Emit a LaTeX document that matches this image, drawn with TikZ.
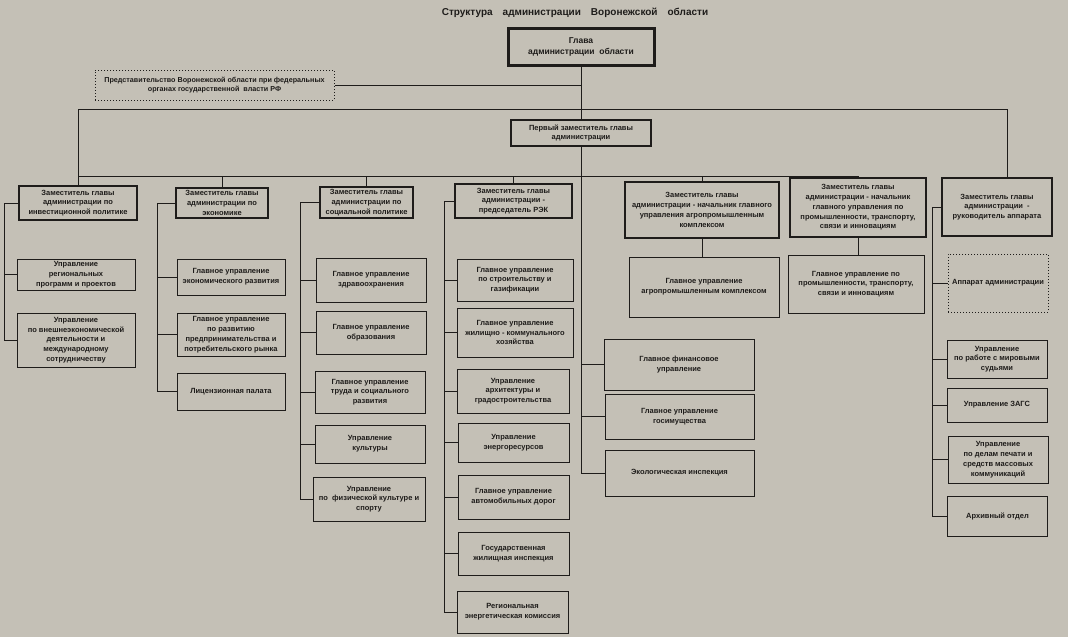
\documentclass[tikz,border=0pt]{standalone}
\usepackage{fontspec}
\setmainfont{Liberation Sans}
\usetikzlibrary{positioning, calc}

\definecolor{papel}{RGB}{196,192,182}
\definecolor{tinta}{RGB}{30,28,26}

\begin{document}
\begin{tikzpicture}[
        x=1pt, y=-1pt,
        every node/.style={font=\fontsize{7.5}{9.8}\selectfont\bfseries, text=tinta, align=center}, % Texto: sans-serif, negrita.
        box/.style={draw=tinta, line width=0.9pt, rectangle, inner sep=1pt},
        dep_box/.style={draw=tinta, line width=1.8pt, rectangle, inner sep=1pt},
        dot_box/.style={draw=tinta, line width=1pt, dotted, rectangle, inner sep=1pt},
        link_style/.style={draw=tinta, line width=0.8pt}
    ]
        % --- Fondo (papel) ---
        \fill[papel] (0,0) rectangle (1068,637);
        \useasboundingbox (0,0) rectangle (1068,637);

        % --- Titulo ---
        \node[font=\fontsize{10}{12}\selectfont\bfseries] (titulo) at (575,13)
            {Структура\enspace\enspace администрации\enspace\enspace Воронежской\enspace\enspace области};

        % --- Glava y primer suplente ---
        \node[dep_box, line width=3pt, minimum width=146pt, minimum height=37pt,
              font=\fontsize{8.5}{11}\selectfont\bfseries] (glava) at (581,47) {Глава\\администрации\ \ области};
        \node[dot_box, minimum width=239pt, minimum height=30pt, font=\fontsize{7.2}{9.8}\selectfont\bfseries] (predst) at (214.5,85)
            {Представительство Воронежской области при федеральных\\органах государственной\ \ власти РФ};
        \node[dep_box, minimum width=140pt, minimum height=26pt] (perv) at (581,133) {Первый заместитель главы\\администрации};

        % --- Suplentes ---
        \node[dep_box, minimum width=118pt, minimum height=34pt] (d1) at (78,203) {Заместитель главы\\администрации по\\инвестиционной политике};
        \node[dep_box, minimum width=92pt, minimum height=30pt] (d2) at (222,203) {Заместитель главы\\администрации по\\экономике};
        \node[dep_box, minimum width=93pt, minimum height=31pt] (d3) at (366.5,202.5) {Заместитель главы\\администрации по\\социальной политике};
        \node[dep_box, minimum width=117pt, minimum height=34pt] (d4) at (513.5,201) {Заместитель главы\\администрации -\\председатель РЭК};
        \node[dep_box, minimum width=154pt, minimum height=56pt] (d5) at (702,210)
            {Заместитель главы\\администрации - начальник главного\\управления агропромышленным\\комплексом};
        \node[dep_box, minimum width=136pt, minimum height=59pt] (d6) at (858,207.5)
            {Заместитель главы\\администрации - начальник\\главного управления по\\промышленности, транспорту,\\связи и инновациям};
        \node[dep_box, line width=1.3pt, minimum width=110pt, minimum height=58pt] (d7) at (997,207)
            {Заместитель главы\\администрации\ \ -\\руководитель аппарата};

        % --- Columna 1 ---
        \node[box, minimum width=118pt, minimum height=31pt] (u_reg) at (76,274.5) {Управление\\региональных\\программ и проектов};
        \node[box, minimum width=118pt, minimum height=54pt] (u_vnesh) at (76,340)
            {Управление\\по внешнеэкономической\\деятельности и\\международному\\сотрудничеству};

        % --- Columna 2 ---
        \node[box, minimum width=108pt, minimum height=36pt] (gu_econ) at (231,277) {Главное управление\\экономического развития};
        \node[box, minimum width=108pt, minimum height=43pt] (gu_predpr) at (231,334.5)
            {Главное управление\\по развитию\\предпринимательства и\\потребительского рынка};
        \node[box, minimum width=108pt, minimum height=37pt] (lic) at (231,391.5) {Лицензионная палата};

        % --- Columna 3 ---
        \node[box, minimum width=110pt, minimum height=44pt] (gu_zdrav) at (371,280) {Главное управление\\здравоохранения};
        \node[box, minimum width=110pt, minimum height=43pt] (gu_obraz) at (371,332.5) {Главное управление\\образования};
        \node[box, minimum width=110pt, minimum height=42pt] (gu_trud) at (370,392) {Главное управление\\труда и социального\\развития};
        \node[box, minimum width=110pt, minimum height=38pt] (u_kult) at (370,444) {Управление\\культуры};
        \node[box, minimum width=112pt, minimum height=44pt] (u_sport) at (369,499) {Управление\\по\ \ физической культуре и\\спорту};

        % --- Columna 4 ---
        \node[box, minimum width=116pt, minimum height=42pt] (gu_stroi) at (515,280) {Главное управление\\по строительству и\\газификации};
        \node[box, minimum width=116pt, minimum height=49pt] (gu_zhkh) at (515,332.5)
            {Главное управление\\жилищно - коммунального\\хозяйства};
        \node[box, minimum width=112pt, minimum height=44pt] (u_arch) at (513,391) {Управление\\архитектуры и\\градостроительства};
        \node[box, minimum width=111pt, minimum height=39pt] (u_energo) at (513.5,442.5) {Управление\\энергоресурсов};
        \node[box, minimum width=111pt, minimum height=44pt] (gu_dorog) at (513.5,497) {Главное управление\\автомобильных дорог};
        \node[box, minimum width=111pt, minimum height=43pt] (gos_insp) at (513.5,553.5) {Государственная\\жилищная инспекция};
        \node[box, minimum width=111pt, minimum height=42pt] (rek) at (512.5,612) {Региональная\\энергетическая комиссия};

        % --- Columna 5 (subordinacion directa) ---
        \node[box, minimum width=150pt, minimum height=60pt] (gu_apk) at (704,287) {Главное управление\\агропромышленным комплексом};
        \node[box, minimum width=150pt, minimum height=51pt] (gu_fin) at (679,364.5) {Главное финансовое\\управление};
        \node[box, minimum width=149pt, minimum height=45pt] (gu_imush) at (679.5,416.5) {Главное управление\\госимущества};
        \node[box, minimum width=149pt, minimum height=46pt] (eco) at (679.5,473) {Экологическая инспекция};

        % --- Columna 6 ---
        \node[box, minimum width=136pt, minimum height=58pt] (gu_prom) at (856,284)
            {Главное управление по\\промышленности, транспорту,\\связи и инновациям};

        % --- Columna 7 ---
        \node[dot_box, minimum width=100pt, minimum height=58pt] (apparat) at (998,283) {Аппарат администрации};
        \node[box, minimum width=100pt, minimum height=38pt] (u_mir) at (997,359) {Управление\\по работе с мировыми\\судьями};
        \node[box, minimum width=100pt, minimum height=34pt] (zags) at (997,405) {Управление ЗАГС};
        \node[box, minimum width=100pt, minimum height=47pt] (u_pechat) at (998,459.5)
            {Управление\\по делам печати и\\средств массовых\\коммуникаций};
        \node[box, minimum width=100pt, minimum height=40pt] (archiv) at (997.5,516) {Архивный отдел};

        % --- Lineas superiores ---
        \coordinate (bus_sup) at (1007,109);
        \coordinate (bus_inf) at (581,176);
        \draw[link_style] (glava) -- (perv);
        \draw[link_style] (predst.east) -- (predst.east -| glava.south);
        \draw[link_style] (d1.north) |- (bus_sup) -- (bus_sup |- d7.north);
        \draw[link_style] (d1.north |- bus_inf) -| (d6.north);
        \draw[link_style] (d2.north) -- (d2.north |- bus_inf);
        \draw[link_style] (d3.north) -- (d3.north |- bus_inf);
        \draw[link_style] (d4.north) -- (d4.north |- bus_inf);
        \draw[link_style] (d5.north) -- (d5.north |- bus_inf);

        % --- Tronco central ---
        \draw[link_style] (perv.south) -- (perv.south |- eco.west);
        \draw[link_style] (perv.south |- gu_fin.west) -- (gu_fin.west);
        \draw[link_style] (perv.south |- gu_imush.west) -- (gu_imush.west);
        \draw[link_style] (perv.south |- eco.west) -- (eco.west);

        % --- Lineas de las columnas ---
        \coordinate (t1) at (4,0);
        \draw[link_style] (d1.west) -- (t1 |- d1.west) |- (u_vnesh.west);
        \draw[link_style] (t1 |- u_reg.west) -- (u_reg.west);

        \coordinate (t2) at (157,0);
        \draw[link_style] (d2.west) -- (t2 |- d2.west) |- (lic.west);
        \draw[link_style] (t2 |- gu_econ.west) -- (gu_econ.west);
        \draw[link_style] (t2 |- gu_predpr.west) -- (gu_predpr.west);

        \coordinate (t3) at (300,0);
        \draw[link_style] (d3.west) -- (t3 |- d3.west) |- (u_sport.west);
        \draw[link_style] (t3 |- gu_zdrav.west) -- (gu_zdrav.west);
        \draw[link_style] (t3 |- gu_obraz.west) -- (gu_obraz.west);
        \draw[link_style] (t3 |- gu_trud.west) -- (gu_trud.west);
        \draw[link_style] (t3 |- u_kult.west) -- (u_kult.west);

        \coordinate (t4) at (444,0);
        \draw[link_style] (d4.west) -- (t4 |- d4.west) |- (rek.west);
        \draw[link_style] (t4 |- gu_stroi.west) -- (gu_stroi.west);
        \draw[link_style] (t4 |- gu_zhkh.west) -- (gu_zhkh.west);
        \draw[link_style] (t4 |- u_arch.west) -- (u_arch.west);
        \draw[link_style] (t4 |- u_energo.west) -- (u_energo.west);
        \draw[link_style] (t4 |- gu_dorog.west) -- (gu_dorog.west);
        \draw[link_style] (t4 |- gos_insp.west) -- (gos_insp.west);

        \draw[link_style] (d5.south) -- (d5.south |- gu_apk.north);
        \draw[link_style] (d6.south) -- (d6.south |- gu_prom.north);

        \coordinate (t7) at (932,0);
        \draw[link_style] (d7.west) -- (t7 |- d7.west) |- (archiv.west);
        \draw[link_style] (t7 |- apparat.west) -- (apparat.west);
        \draw[link_style] (t7 |- u_mir.west) -- (u_mir.west);
        \draw[link_style] (t7 |- zags.west) -- (zags.west);
        \draw[link_style] (t7 |- u_pechat.west) -- (u_pechat.west);
    \end{tikzpicture}
\end{document}
